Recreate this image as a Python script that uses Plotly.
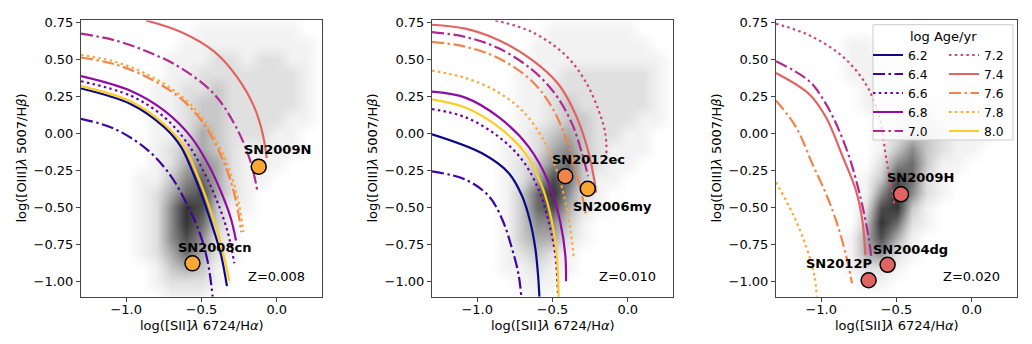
import plotly.graph_objects as go

# ---------------- data ----------------
AGES = [6.2, 6.4, 6.6, 6.8, 7.0, 7.2, 7.4, 7.6, 7.8, 8.0]
AGE_COLORS = ['#0d0887', '#41049d', '#6a00a8', '#8f0da4', '#b12a90',
              '#cc4778', '#e16462', '#f2844b', '#fca636', '#fcce25']
AGE_DASH = ['solid', 'dashdot', 'dot', 'solid', 'dashdot',
            'dot', 'solid', 'dashdot', 'dot', 'solid']

# Z = 0.008 curves
Z008_62_X = [-1.3, -0.968, -0.747, -0.636, -0.547, -0.481, -0.415, -0.370, -0.331]
Z008_62_Y = [0.306, 0.200, 0.045, -0.088, -0.287, -0.464, -0.664, -0.819, -1.029]
Z008_64_X = [-1.3, -1.079, -0.857, -0.702, -0.592, -0.514, -0.459, -0.426]
Z008_64_Y = [0.101, 0.034, -0.110, -0.287, -0.486, -0.664, -0.863, -1.1]
Z008_66_X = [-1.3, -0.968, -0.747, -0.592, -0.481, -0.393, -0.326, -0.282]
Z008_66_Y = [0.355, 0.256, 0.112, -0.066, -0.265, -0.464, -0.664, -0.874]
Z008_68_X = [-1.3, -0.968, -0.747, -0.570, -0.448, -0.359, -0.304, -0.271]
Z008_68_Y = [0.389, 0.289, 0.156, -0.021, -0.221, -0.420, -0.575, -0.72]
Z008_70_X = [-1.3, -1.079, -0.857, -0.636, -0.415, -0.282, -0.193, -0.149, -0.131]
Z008_70_Y = [0.676, 0.632, 0.554, 0.444, 0.267, 0.067, -0.132, -0.287, -0.376]
Z008_74_X = [-0.868, -0.636, -0.415, -0.260, -0.149, -0.094, -0.067]
Z008_74_Y = [0.765, 0.687, 0.554, 0.377, 0.178, 0.001, -0.165]
Z008_76_X = [-1.3, -1.079, -0.857, -0.636, -0.488, -0.380, -0.305, -0.262, -0.236]
Z008_76_Y = [0.515, 0.470, 0.380, 0.237, 0.072, -0.125, -0.322, -0.497, -0.665]
Z008_78_X = [-1.3, -1.079, -0.857, -0.636, -0.481, -0.370, -0.293, -0.249, -0.222]
Z008_78_Y = [0.532, 0.488, 0.399, 0.256, 0.089, -0.110, -0.309, -0.486, -0.664]
Z008_80_X = [-1.3, -0.968, -0.747, -0.614, -0.525, -0.459, -0.393, -0.348, -0.315]
Z008_80_Y = [0.322, 0.218, 0.063, -0.088, -0.287, -0.464, -0.664, -0.841, -0.996]

# Z = 0.010 curves
Z010_62_X = [-1.3, -0.968, -0.791, -0.702, -0.647, -0.614, -0.596, -0.587]
Z010_62_Y = [-0.004, -0.132, -0.265, -0.420, -0.597, -0.774, -0.952, -1.1]
Z010_64_X = [-1.3, -1.079, -0.924, -0.835, -0.769, -0.725, -0.707]
Z010_64_Y = [-0.254, -0.309, -0.420, -0.575, -0.774, -0.952, -1.1]
Z010_66_X = [-1.3, -1.079, -0.857, -0.702, -0.592, -0.525, -0.481, -0.463]
Z010_66_Y = [0.167, 0.112, -0.021, -0.176, -0.376, -0.597, -0.819, -1.1]
Z010_68_X = [-1.3, -1.079, -0.857, -0.658, -0.525, -0.448, -0.415, -0.410]
Z010_68_Y = [0.284, 0.244, 0.112, -0.088, -0.331, -0.597, -0.819, -0.996]
Z010_70_X = [-1.3, -1.079, -0.857, -0.636, -0.481, -0.370, -0.304, -0.264]
Z010_70_Y = [0.687, 0.654, 0.577, 0.433, 0.267, 0.067, -0.132, -0.287]
Z010_72_X = [-0.879, -0.636, -0.415, -0.282, -0.193, -0.149, -0.142]
Z010_72_Y = [0.765, 0.687, 0.532, 0.355, 0.156, 0.001, -0.132]
Z010_74_X = [-1.3, -1.079, -0.857, -0.636, -0.459, -0.348, -0.271, -0.227, -0.211]
Z010_74_Y = [0.736, 0.710, 0.632, 0.499, 0.333, 0.134, -0.088, -0.287, -0.398]
Z010_76_X = [-1.3, -1.079, -0.857, -0.636, -0.503, -0.415, -0.348, -0.293, -0.277]
Z010_76_Y = [0.621, 0.588, 0.510, 0.355, 0.178, -0.021, -0.243, -0.464, -0.553]
Z010_78_X = [-1.3, -1.079, -0.857, -0.680, -0.547, -0.459, -0.404, -0.370, -0.359]
Z010_78_Y = [0.426, 0.377, 0.278, 0.134, -0.066, -0.287, -0.509, -0.730, -0.841]
Z010_80_X = [-1.3, -1.079, -0.857, -0.680, -0.570, -0.503, -0.470, -0.459]
Z010_80_Y = [0.233, 0.178, 0.045, -0.132, -0.354, -0.597, -0.841, -1.1]

# Z = 0.020 curves
Z020_70_X = [-1.3, -1.079, -0.968, -0.88, -0.80, -0.73, -0.685, -0.665]
Z020_70_Y = [0.49, 0.355, 0.20, 0.02, -0.20, -0.47, -0.70, -0.85]
Z020_72_X = [-1.3, -1.079, -0.857, -0.702, -0.614, -0.568, -0.514]
Z020_72_Y = [0.743, 0.665, 0.521, 0.333, 0.111, -0.167, -0.478]
Z020_74_X = [-1.3, -1.079, -0.968, -0.855, -0.769, -0.724, -0.707]
Z020_74_Y = [0.41, 0.267, 0.111, -0.16, -0.383, -0.604, -0.82]
Z020_76_X = [-1.3, -1.167, -1.06, -0.97, -0.90, -0.84, -0.795]
Z020_76_Y = [0.225, 0.045, -0.20, -0.40, -0.59, -0.80, -1.01]
Z020_78_X = [-1.3, -1.189, -1.101, -1.045, -1.03]
Z020_78_Y = [-0.327, -0.538, -0.759, -0.958, -1.1]

# supernovae
SN_Z008_NAMES = ['SN2009N', 'SN2008cn']
SN_Z008_X = [-0.120, -0.560]
SN_Z008_Y = [-0.222, -0.875]
SN_Z008_AGE = [7.8, 7.8]
SN_Z010_NAMES = ['SN2012ec', 'SN2006my']
SN_Z010_X = [-0.415, -0.266]
SN_Z010_Y = [-0.287, -0.371]
SN_Z010_AGE = [7.6, 7.8]
SN_Z020_NAMES = ['SN2009H', 'SN2004dg', 'SN2012P']
SN_Z020_X = [-0.470, -0.559, -0.685]
SN_Z020_Y = [-0.409, -0.885, -0.989]
SN_Z020_AGE = [7.4, 7.4, 7.4]

# label anchor positions (data coords)
LBL_Z008_X = [0.005, -0.412]
LBL_Z008_Y = [-0.105, -0.770]
LBL_Z010_X = [-0.262, -0.10]
LBL_Z010_Y = [-0.172, -0.493]
LBL_Z020_X = [-0.342, -0.404, -0.88]
LBL_Z020_Y = [-0.298, -0.78, -0.876]

# background galaxy density (0 = none .. 9 = densest), rows from y=0.8 down to y=-1.1
DENS_X = [-1.3, -1.2, -1.1, -1.0, -0.9, -0.8, -0.7, -0.6, -0.5, -0.4, -0.3, -0.2, -0.1, 0.0, 0.1, 0.2, 0.3]
DENS_Y = [0.8, 0.7, 0.6, 0.5, 0.4, 0.3, 0.2, 0.1, 0.0, -0.1, -0.2, -0.3, -0.4, -0.5, -0.6, -0.7, -0.8, -0.9, -1.0, -1.1]
DENS_Z008 = [
    [0, 0, 0, 0, 0, 0, 0, 0, 0, 0, 0, 0, 0, 0, 0, 0, 0],
    [0, 0, 0, 0, 0, 0, 0, 0, 1, 1, 1, 1, 1, 1, 1, 0, 0],
    [0, 0, 0, 0, 0, 0, 0, 1, 1, 1, 1, 1, 1, 1, 1, 1, 0],
    [0, 0, 0, 0, 0, 0, 1, 1, 1, 2, 2, 1, 2, 2, 1, 1, 0],
    [0, 0, 0, 0, 0, 0, 1, 1, 2, 2, 2, 2, 2, 2, 2, 1, 0],
    [0, 0, 0, 0, 0, 1, 1, 2, 2, 3, 2, 2, 2, 2, 2, 1, 0],
    [0, 0, 0, 0, 0, 1, 1, 2, 3, 3, 2, 2, 2, 2, 2, 1, 0],
    [0, 0, 0, 0, 0, 1, 1, 2, 3, 3, 2, 2, 2, 2, 1, 1, 0],
    [0, 0, 0, 0, 0, 1, 1, 2, 4, 3, 2, 2, 2, 1, 1, 0, 0],
    [0, 0, 0, 0, 0, 1, 2, 3, 4, 3, 2, 1, 1, 1, 1, 0, 0],
    [0, 0, 0, 0, 0, 1, 2, 4, 5, 4, 2, 1, 1, 1, 0, 0, 0],
    [0, 0, 0, 0, 1, 1, 3, 5, 6, 4, 2, 1, 1, 0, 0, 0, 0],
    [0, 0, 0, 0, 1, 2, 4, 6, 7, 4, 2, 1, 0, 0, 0, 0, 0],
    [0, 0, 0, 0, 1, 2, 5, 8, 7, 3, 1, 1, 0, 0, 0, 0, 0],
    [0, 0, 0, 0, 1, 2, 5, 8, 6, 3, 1, 0, 0, 0, 0, 0, 0],
    [0, 0, 0, 0, 1, 2, 5, 7, 5, 2, 1, 0, 0, 0, 0, 0, 0],
    [0, 0, 0, 0, 1, 2, 4, 6, 4, 2, 1, 0, 0, 0, 0, 0, 0],
    [0, 0, 0, 0, 0, 1, 3, 4, 3, 1, 0, 0, 0, 0, 0, 0, 0],
    [0, 0, 0, 0, 0, 1, 2, 2, 2, 1, 0, 0, 0, 0, 0, 0, 0],
    [0, 0, 0, 0, 0, 0, 1, 1, 1, 0, 0, 0, 0, 0, 0, 0, 0],
]
DENS_Z010 = [
    [0, 0, 0, 0, 0, 0, 0, 0, 0, 0, 0, 0, 0, 0, 0, 0, 0],
    [0, 0, 0, 0, 0, 0, 0, 0, 1, 1, 1, 1, 1, 1, 0, 0, 0],
    [0, 0, 0, 0, 0, 0, 0, 1, 1, 1, 1, 1, 1, 1, 1, 0, 0],
    [0, 0, 0, 0, 0, 0, 0, 1, 1, 1, 1, 1, 1, 1, 1, 1, 0],
    [0, 0, 0, 0, 0, 0, 1, 1, 1, 2, 2, 2, 2, 2, 2, 1, 0],
    [0, 0, 0, 0, 0, 0, 1, 1, 2, 2, 2, 2, 2, 2, 2, 1, 0],
    [0, 0, 0, 0, 0, 0, 1, 1, 2, 3, 2, 2, 2, 2, 2, 1, 0],
    [0, 0, 0, 0, 0, 0, 1, 1, 2, 3, 3, 2, 2, 2, 1, 1, 0],
    [0, 0, 0, 0, 0, 0, 1, 2, 3, 4, 3, 2, 2, 1, 1, 0, 0],
    [0, 0, 0, 0, 0, 1, 1, 2, 4, 5, 3, 2, 1, 1, 1, 0, 0],
    [0, 0, 0, 0, 0, 1, 2, 3, 5, 6, 3, 2, 1, 1, 0, 0, 0],
    [0, 0, 0, 0, 0, 1, 2, 4, 7, 6, 3, 1, 1, 0, 0, 0, 0],
    [0, 0, 0, 0, 0, 1, 3, 6, 8, 5, 2, 1, 0, 0, 0, 0, 0],
    [0, 0, 0, 0, 0, 1, 3, 6, 7, 4, 2, 1, 0, 0, 0, 0, 0],
    [0, 0, 0, 0, 0, 1, 3, 5, 5, 3, 1, 0, 0, 0, 0, 0, 0],
    [0, 0, 0, 0, 0, 1, 3, 4, 4, 2, 1, 0, 0, 0, 0, 0, 0],
    [0, 0, 0, 0, 0, 1, 2, 3, 2, 1, 0, 0, 0, 0, 0, 0, 0],
    [0, 0, 0, 0, 0, 1, 1, 2, 1, 1, 0, 0, 0, 0, 0, 0, 0],
    [0, 0, 0, 0, 0, 0, 1, 1, 1, 0, 0, 0, 0, 0, 0, 0, 0],
    [0, 0, 0, 0, 0, 0, 0, 1, 0, 0, 0, 0, 0, 0, 0, 0, 0],
]
DENS_Z020 = [
    [0, 0, 0, 0, 0, 0, 0, 0, 0, 0, 0, 0, 0, 0, 0, 0, 0],
    [0, 0, 0, 0, 0, 0, 0, 0, 0, 0, 0, 0, 0, 0, 0, 0, 0],
    [0, 0, 0, 0, 0, 1, 1, 0, 0, 0, 0, 0, 0, 0, 0, 0, 0],
    [0, 0, 0, 0, 0, 1, 1, 1, 0, 0, 0, 0, 0, 0, 0, 0, 0],
    [0, 0, 0, 0, 0, 1, 1, 1, 1, 0, 0, 0, 0, 0, 0, 0, 0],
    [0, 0, 0, 0, 0, 0, 1, 1, 1, 1, 0, 0, 0, 0, 0, 0, 0],
    [0, 0, 0, 0, 0, 0, 1, 1, 1, 1, 1, 1, 1, 1, 0, 0, 0],
    [0, 0, 0, 0, 0, 0, 0, 1, 1, 2, 2, 1, 1, 1, 1, 0, 0],
    [0, 0, 0, 0, 0, 0, 0, 1, 2, 3, 3, 2, 1, 1, 1, 0, 0],
    [0, 0, 0, 0, 0, 0, 0, 1, 3, 5, 3, 2, 1, 1, 0, 0, 0],
    [0, 0, 0, 0, 0, 0, 0, 2, 5, 6, 3, 1, 1, 0, 0, 0, 0],
    [0, 0, 0, 0, 0, 0, 1, 3, 7, 6, 2, 1, 0, 0, 0, 0, 0],
    [0, 0, 0, 0, 0, 0, 1, 5, 8, 5, 2, 1, 0, 0, 0, 0, 0],
    [0, 0, 0, 0, 0, 0, 2, 7, 8, 3, 1, 0, 0, 0, 0, 0, 0],
    [0, 0, 0, 0, 0, 0, 3, 8, 6, 2, 1, 0, 0, 0, 0, 0, 0],
    [0, 0, 0, 0, 0, 1, 4, 7, 4, 1, 0, 0, 0, 0, 0, 0, 0],
    [0, 0, 0, 0, 0, 1, 4, 5, 2, 1, 0, 0, 0, 0, 0, 0, 0],
    [0, 0, 0, 0, 0, 1, 2, 2, 1, 0, 0, 0, 0, 0, 0, 0, 0],
    [0, 0, 0, 0, 0, 0, 1, 1, 0, 0, 0, 0, 0, 0, 0, 0, 0],
    [0, 0, 0, 0, 0, 0, 0, 0, 0, 0, 0, 0, 0, 0, 0, 0, 0],
]

PANEL_LABELS = ['Z=0.008', 'Z=0.010', 'Z=0.020']
X_TICKS = [-1.0, -0.5, 0.0]
Y_TICKS = [-1.0, -0.75, -0.5, -0.25, 0.0, 0.25, 0.5, 0.75]
X_TITLE = 'log([SII]<i>λ</i> 6724/H<i>α</i>)'
Y_TITLE = 'log([OIII]<i>λ</i> 5007/H<i>β</i>)'
LEGEND_TITLE = 'log Age/yr'
LEGEND_COL1 = [6.2, 6.4, 6.6, 6.8, 7.0]
LEGEND_COL2 = [7.2, 7.4, 7.6, 7.8, 8.0]

# ---------------- figure ----------------
W, H = 1032, 344
FONT = 'DejaVu Sans'
DASHES = {'solid': 'solid', 'dashdot': '12px,3.5px,2.5px,3.5px', 'dot': '2.5px,3.3px'}
GREYS = [[0, '#ffffff'], [1 / 9, '#f2f2f2'], [2 / 9, '#e0e0e0'], [3 / 9, '#c8c8c8'],
         [4 / 9, '#ababab'], [5 / 9, '#8c8c8c'], [6 / 9, '#6c6c6c'], [7 / 9, '#4e4e4e'],
         [8 / 9, '#343434'], [1, '#1e1e1e']]

panels = [
    dict(dens=DENS_Z008, curves=[(6.2, Z008_62_X, Z008_62_Y), (6.4, Z008_64_X, Z008_64_Y),
                                 (6.6, Z008_66_X, Z008_66_Y), (6.8, Z008_68_X, Z008_68_Y),
                                 (7.0, Z008_70_X, Z008_70_Y), (7.4, Z008_74_X, Z008_74_Y),
                                 (7.6, Z008_76_X, Z008_76_Y), (7.8, Z008_78_X, Z008_78_Y),
                                 (8.0, Z008_80_X, Z008_80_Y)],
         sn=(SN_Z008_NAMES, SN_Z008_X, SN_Z008_Y, SN_Z008_AGE, LBL_Z008_X, LBL_Z008_Y)),
    dict(dens=DENS_Z010, curves=[(6.2, Z010_62_X, Z010_62_Y), (6.4, Z010_64_X, Z010_64_Y),
                                 (6.6, Z010_66_X, Z010_66_Y), (6.8, Z010_68_X, Z010_68_Y),
                                 (7.0, Z010_70_X, Z010_70_Y), (7.2, Z010_72_X, Z010_72_Y),
                                 (7.4, Z010_74_X, Z010_74_Y), (7.6, Z010_76_X, Z010_76_Y),
                                 (7.8, Z010_78_X, Z010_78_Y), (8.0, Z010_80_X, Z010_80_Y)],
         sn=(SN_Z010_NAMES, SN_Z010_X, SN_Z010_Y, SN_Z010_AGE, LBL_Z010_X, LBL_Z010_Y)),
    dict(dens=DENS_Z020, curves=[(7.0, Z020_70_X, Z020_70_Y), (7.2, Z020_72_X, Z020_72_Y),
                                 (7.4, Z020_74_X, Z020_74_Y), (7.6, Z020_76_X, Z020_76_Y),
                                 (7.8, Z020_78_X, Z020_78_Y)],
         sn=(SN_Z020_NAMES, SN_Z020_X, SN_Z020_Y, SN_Z020_AGE, LBL_Z020_X, LBL_Z020_Y)),
]

left_px = [81, 432, 776]
pw = 241
top_px, bot_px = 15.7, 296

fig = go.Figure()
annotations = []
layout = {}


def style(age):
    i = AGES.index(age)
    return AGE_COLORS[i], DASHES[AGE_DASH[i]]


for k, p in enumerate(panels):
    sfx = '' if k == 0 else str(k + 1)
    xa, ya = 'x' + sfx, 'y' + sfx
    fig.add_trace(go.Heatmap(x=DENS_X, y=DENS_Y[::-1], z=p['dens'][::-1], zmin=0, zmax=9,
                             colorscale=GREYS, showscale=False, zsmooth='best',
                             hoverinfo='skip', xaxis=xa, yaxis=ya))
    for age, cx, cy in p['curves']:
        col, dash = style(age)
        fig.add_trace(go.Scatter(x=cx, y=cy, mode='lines',
                                 line=dict(color=col, width=2.2, dash=dash, shape='spline', smoothing=1.0),
                                 showlegend=False, xaxis=xa, yaxis=ya, hoverinfo='skip'))
    names, sx, sy, sage, lx, ly = p['sn']
    fig.add_trace(go.Scatter(x=sx, y=sy, mode='markers',
                             marker=dict(size=15, color=[style(a)[0] for a in sage],
                                         line=dict(color='black', width=1.5)),
                             showlegend=False, xaxis=xa, yaxis=ya))
    for n, tx, ty in zip(names, lx, ly):
        annotations.append(dict(x=tx, y=ty, xref=xa, yref=ya, text='<b>' + n + '</b>',
                                showarrow=False, xanchor='center', yanchor='middle',
                                font=dict(size=13, color='black', family=FONT)))
    annotations.append(dict(x=0.0, y=-0.965, xref=xa, yref=ya, text=PANEL_LABELS[k],
                            showarrow=False, xanchor='center', yanchor='middle',
                            font=dict(size=13, color='black', family=FONT)))

    x0 = left_px[k] / W
    x1 = (left_px[k] + pw) / W
    y0 = 1 - bot_px / H
    y1 = 1 - top_px / H
    axcommon = dict(showline=True, linecolor='#444444', linewidth=1, mirror=True,
                    ticks='outside', ticklen=4, tickcolor='#444444', showgrid=False,
                    zeroline=False, tickfont=dict(size=13, family=FONT, color='black'))
    layout['xaxis' + sfx] = dict(domain=[x0, x1], range=[-1.3, 0.3], anchor=ya,
                                 tickvals=X_TICKS, tickformat='.1f', ticklabelstandoff=-3, **axcommon)
    layout['yaxis' + sfx] = dict(domain=[y0, y1], range=[-1.1, 0.765], anchor=xa,
                                 tickvals=Y_TICKS, tickformat='.2f', **axcommon)
    annotations.append(dict(x=(x0 + x1) / 2, y=1 - 325 / H, xref='paper', yref='paper',
                            text=X_TITLE, showarrow=False, xanchor='center', yanchor='middle',
                            font=dict(size=13, family=FONT, color='black')))
    annotations.append(dict(x=(left_px[k] - 59) / W, y=(y0 + y1) / 2, xref='paper', yref='paper',
                            text=Y_TITLE, showarrow=False, textangle=-90,
                            xanchor='center', yanchor='middle',
                            font=dict(size=13, family=FONT, color='black')))

# legend: two vertical columns inside one framed box
for lg, col_ages in (('legend', LEGEND_COL1), ('legend2', LEGEND_COL2)):
    for age in col_ages:
        col, dash = style(age)
        fig.add_trace(go.Scatter(x=[None], y=[None], mode='lines', name=f'{age:.1f}',
                                 line=dict(color=col, width=2.2, dash=dash),
                                 xaxis='x3', yaxis='y3', showlegend=True, legend=lg))

box_l, box_r, box_t, box_b = 873, 1013, 20, 137
legend_common = dict(yanchor='top', xanchor='left', orientation='v', itemwidth=30,
                     bgcolor='rgba(0,0,0,0)', borderwidth=0, traceorder='normal',
                     font=dict(size=12.3, family=FONT, color='black'))
fig.add_shape(type='rect', xref='paper', yref='paper',
              x0=box_l / W, x1=box_r / W, y0=1 - box_b / H, y1=1 - box_t / H,
              fillcolor='rgba(255,255,255,0.8)', line=dict(color='#cccccc', width=1), layer='above')
annotations.append(dict(x=(box_l + box_r) / 2 / W, y=1 - 31.5 / H, xref='paper', yref='paper',
                        text=LEGEND_TITLE, showarrow=False, xanchor='center', yanchor='middle',
                        font=dict(size=13, family=FONT, color='black')))

fig.update_layout(
    width=W, height=H, margin=dict(l=0, r=0, t=0, b=0),
    paper_bgcolor='white', plot_bgcolor='white',
    font=dict(family=FONT, size=13, color='black'),
    annotations=annotations,
    legend=dict(x=868 / W, y=1 - 36 / H, **legend_common),
    legend2=dict(x=944 / W, y=1 - 36 / H, **legend_common),
    **layout,
)

fig.write_html('out.html')
